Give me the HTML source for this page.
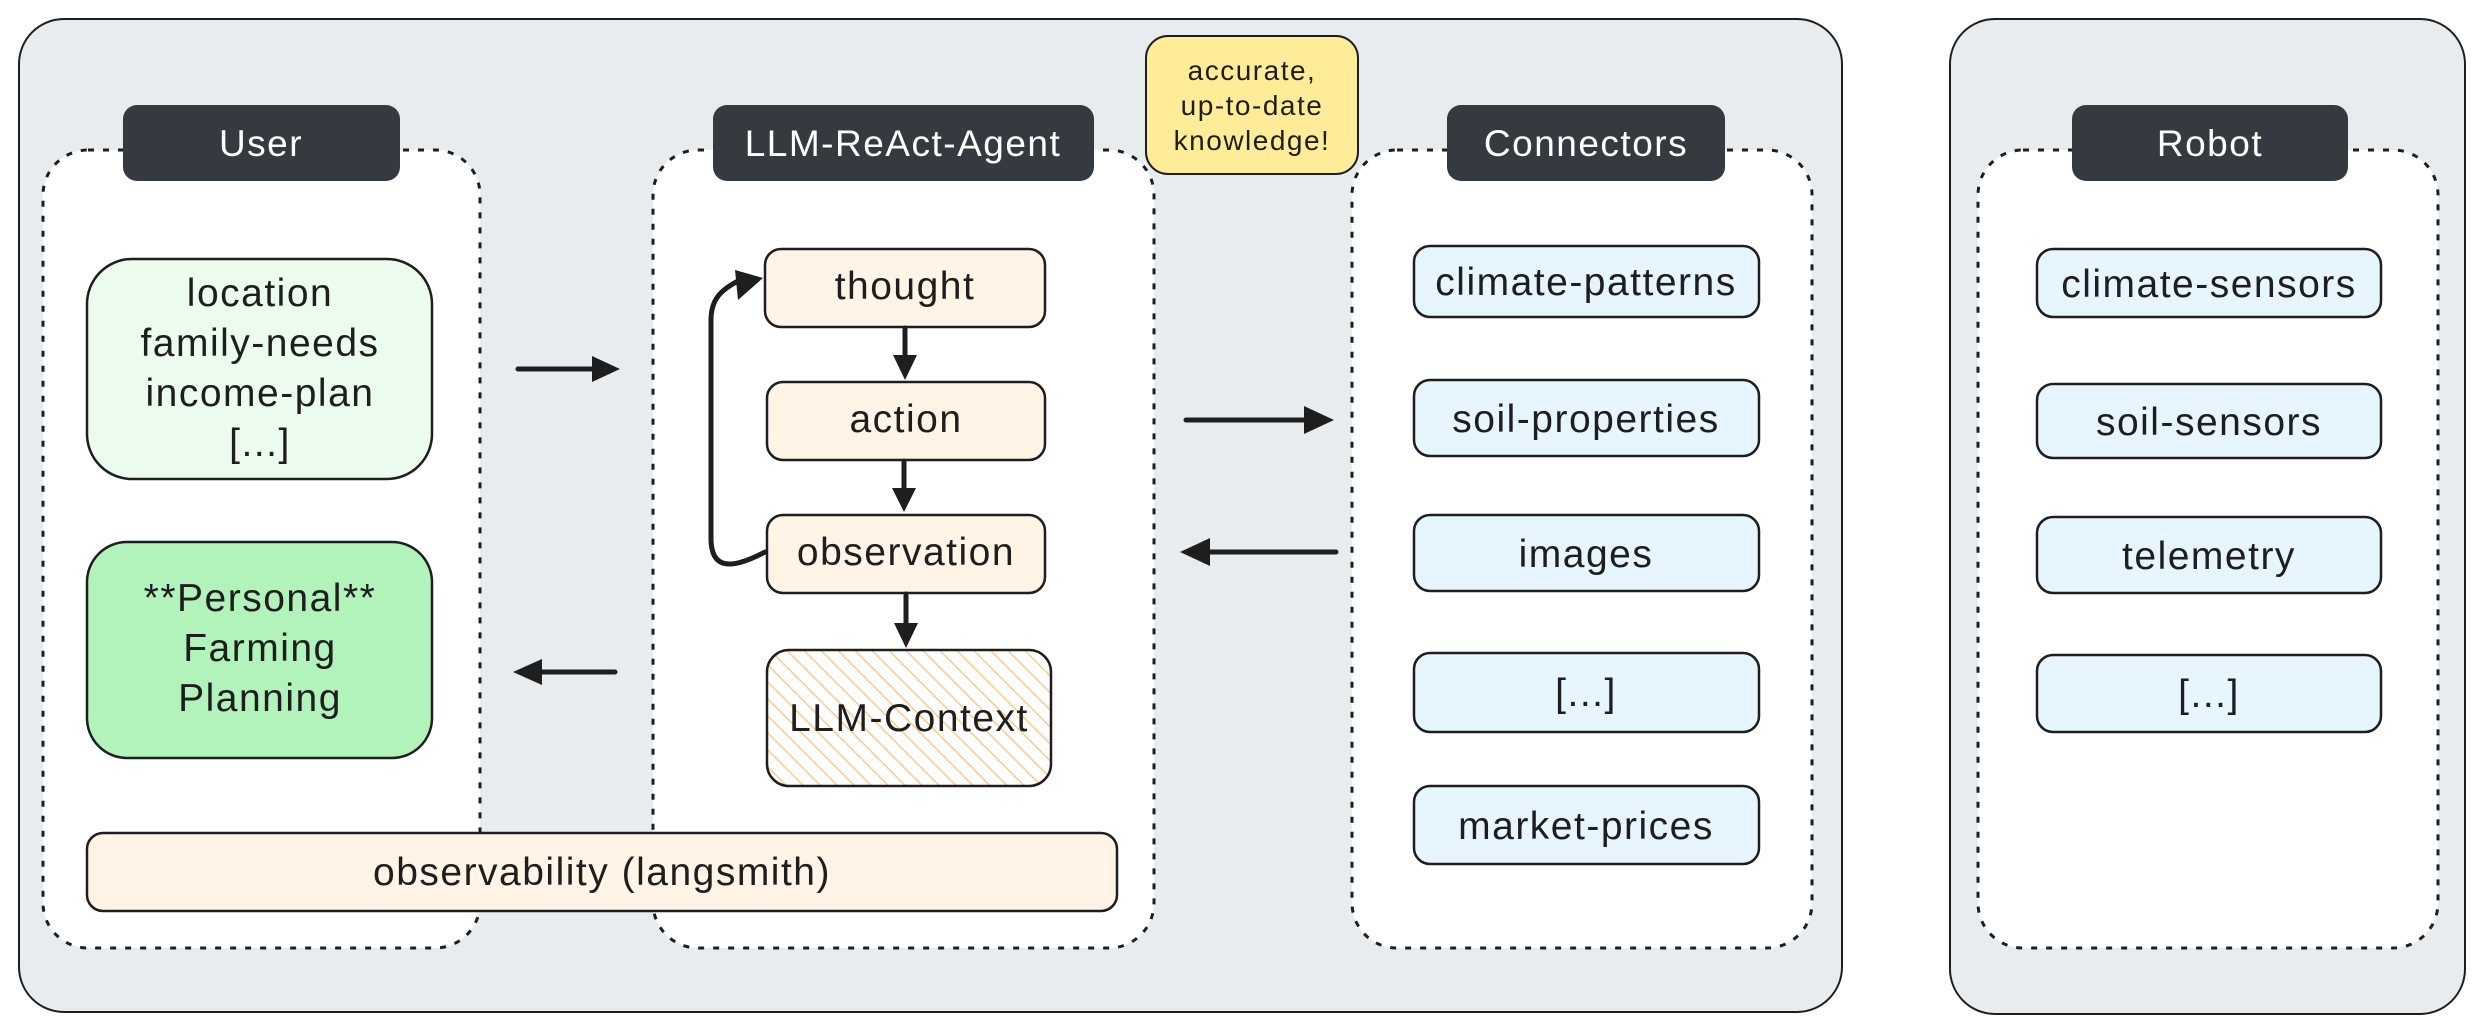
<!DOCTYPE html>
<html><head><meta charset="utf-8"><style>
html,body{margin:0;padding:0;background:#fff;}
svg{display:block;}
text{font-family:"Comic Sans MS","Liberation Sans",sans-serif;fill:#1e1e1e;letter-spacing:1.5px;}
</style></head><body>
<svg width="2485" height="1034" viewBox="0 0 2485 1034" xmlns="http://www.w3.org/2000/svg">
<defs>
<pattern id="hatch" width="12" height="12" patternUnits="userSpaceOnUse" patternTransform="rotate(-45)">
<rect width="12" height="12" fill="#fff"/>
<line x1="0" y1="0" x2="0" y2="12" stroke="#ffc078" stroke-width="2.5"/>
</pattern>
</defs>
<rect x="19" y="19" width="1823" height="993" rx="45" fill="#e9ecef" stroke="#1e1e1e" stroke-width="2"/>
<rect x="1950" y="19" width="515" height="995" rx="45" fill="#e9ecef" stroke="#1e1e1e" stroke-width="2"/>
<g fill="#fff" stroke="#1e1e1e" stroke-width="3" stroke-dasharray="6 9">
<rect x="43" y="150" width="437" height="798" rx="45"/>
<rect x="653" y="150" width="501" height="798" rx="45"/>
<rect x="1352" y="150" width="460" height="798" rx="45"/>
<rect x="1978" y="150" width="460" height="798" rx="45"/>
</g>
<g fill="#343a40">
<rect x="123" y="105" width="277" height="76" rx="14"/>
<rect x="713" y="105" width="381" height="76" rx="14"/>
<rect x="1447" y="105" width="278" height="76" rx="14"/>
<rect x="2072" y="105" width="276" height="76" rx="14"/>
</g>
<g font-size="37" text-anchor="middle">
<text x="261" y="156" style="fill:#fff">User</text>
<text x="903" y="156" style="fill:#fff">LLM-ReAct-Agent</text>
<text x="1586" y="156" style="fill:#fff">Connectors</text>
<text x="2210" y="156" style="fill:#fff">Robot</text>
</g>
<rect x="1146" y="36" width="212" height="138" rx="22" fill="#ffec99" stroke="#1e1e1e" stroke-width="2"/>
<g font-size="28" text-anchor="middle">
<text x="1252" y="80">accurate,</text>
<text x="1252" y="115">up-to-date</text>
<text x="1252" y="150">knowledge!</text>
</g>
<rect x="87" y="259" width="345" height="220" rx="45" fill="#ebfbee" stroke="#1e1e1e" stroke-width="2.5"/>
<g font-size="39" text-anchor="middle">
<text x="260" y="306">location</text>
<text x="260" y="356">family-needs</text>
<text x="260" y="406">income-plan</text>
<text x="260" y="456">[...]</text>
</g>
<rect x="87" y="542" width="345" height="216" rx="40" fill="#b2f2bb" stroke="#1e1e1e" stroke-width="2.5"/>
<g font-size="39" text-anchor="middle">
<text x="260" y="611">**Personal**</text>
<text x="260" y="661">Farming</text>
<text x="260" y="711">Planning</text>
</g>
<rect x="87" y="833" width="1030" height="78" rx="16" fill="#fff4e6" stroke="#1e1e1e" stroke-width="2.5"/>
<text x="602" y="885" font-size="39" text-anchor="middle">observability (langsmith)</text>
<g fill="#fff4e6" stroke="#1e1e1e" stroke-width="2.5">
<rect x="765" y="249" width="280" height="78" rx="16"/>
<rect x="767" y="382" width="278" height="78" rx="16"/>
<rect x="767" y="515" width="278" height="78" rx="16"/>
<rect x="767" y="650" width="284" height="136" rx="22" fill="url(#hatch)"/>
</g>
<g font-size="39" text-anchor="middle">
<text x="905" y="299">thought</text>
<text x="906" y="432">action</text>
<text x="906" y="565">observation</text>
<text x="909" y="731">LLM-Context</text>
</g>
<g fill="#e7f5ff" stroke="#1e1e1e" stroke-width="2.5">
<rect x="1414" y="246" width="345" height="71" rx="16"/>
<rect x="1414" y="380" width="345" height="76" rx="16"/>
<rect x="1414" y="515" width="345" height="76" rx="16"/>
<rect x="1414" y="653" width="345" height="79" rx="16"/>
<rect x="1414" y="786" width="345" height="78" rx="16"/>
<rect x="2037" y="249" width="344" height="68" rx="16"/>
<rect x="2037" y="384" width="344" height="74" rx="16"/>
<rect x="2037" y="517" width="344" height="76" rx="16"/>
<rect x="2037" y="655" width="344" height="77" rx="16"/>
</g>
<g font-size="39" text-anchor="middle">
<text x="1586" y="295">climate-patterns</text>
<text x="1586" y="432">soil-properties</text>
<text x="1586" y="567">images</text>
<text x="1586" y="706">[...]</text>
<text x="1586" y="839">market-prices</text>
<text x="2209" y="297">climate-sensors</text>
<text x="2209" y="435">soil-sensors</text>
<text x="2209" y="569">telemetry</text>
<text x="2209" y="707">[...]</text>
</g>
<g stroke="#1e1e1e" stroke-width="5" fill="none" stroke-linecap="round">
<line x1="518" y1="369" x2="595" y2="369"/>
<line x1="615" y1="672" x2="540" y2="672"/>
<line x1="1186" y1="420" x2="1308" y2="420"/>
<line x1="1336" y1="552" x2="1205" y2="552"/>
<line x1="905" y1="328" x2="905" y2="360"/>
<line x1="904" y1="461" x2="904" y2="493"/>
<line x1="906" y1="594" x2="906" y2="628"/>
<path d="M765 552 C740 565 712 575 711 540 L711 320 C711 300 720 290 740 280"/>
</g>
<g fill="#1e1e1e">
<polygon points="620,369 592,356 592,382"/>
<polygon points="513,672 542,659 542,685"/>
<polygon points="1334,420 1304,406 1304,434"/>
<polygon points="1180,552 1210,538 1210,566"/>
<polygon points="905,380 893,355 917,355"/>
<polygon points="904,512 892,488 916,488"/>
<polygon points="906,648 894,623 918,623"/>
<polygon points="763,278 735,270 738,300"/>
</g>
</svg>
</body></html>
